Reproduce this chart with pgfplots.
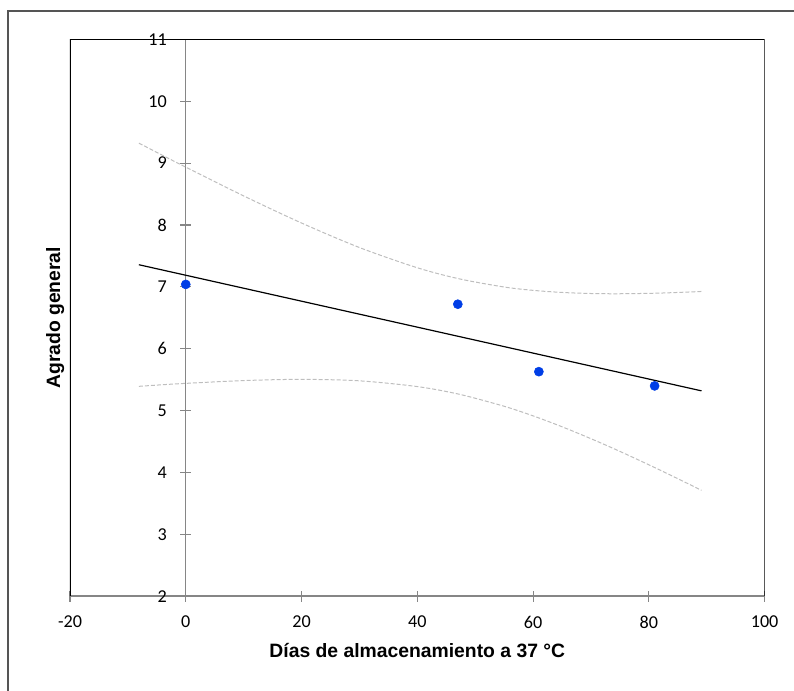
\documentclass[border=0pt]{standalone}
\usepackage{fontspec}
\setmainfont{Carlito}
\newfontfamily\arialfont{Liberation Sans}
\usepackage{pgfplots}
\pgfplotsset{compat=1.18}
\definecolor{ptblue}{RGB}{0,62,230}
\definecolor{bandgray}{RGB}{190,190,190}
\definecolor{axgray}{RGB}{134,134,134}
\definecolor{framegray}{RGB}{85,85,85}
\begin{document}
\begin{tikzpicture}
\useasboundingbox (0,0) rectangle (595.5pt,518.25pt);
\draw[framegray, line width=1pt] (6pt,0) -- (6pt,510pt) -- (596pt,510pt);
\begin{axis}[
 at={(52.5pt,71pt)}, anchor=south west,
 scale only axis, width=520.95pt, height=417.75pt,
 xmin=-20, xmax=100, ymin=2, ymax=11,
 axis x line*=bottom, axis y line*=center,
 hide obscured x ticks=false, hide obscured y ticks=false,
 xtick={-20,0,20,40,60,80,100}, ytick={2,3,4,5,6,7,8,9,10,11},
 tick align=center, major tick length=8.5pt,
 every tick/.style={axgray, line width=0.8pt},
 x axis line style={axgray, line width=1.6pt},
 y axis line style={axgray, line width=0.8pt},
 /pgf/number format/assume math mode=true,
 tick label style={font=\fontsize{13.6}{16}\selectfont, black},
 yticklabel style={anchor=east, xshift=-6.5pt},
 xticklabel style={anchor=north, yshift=-7pt},
 xlabel={Días de almacenamiento a 37 °C},
 ylabel={Agrado general},
 label style={font=\arialfont\bfseries\fontsize{14.5}{17}\selectfont},
 xlabel style={at={(axis description cs:0.5,-0.0964)}, anchor=center},
 ylabel style={at={(axis description cs:-0.0212,0.5)}, anchor=center, rotate=0},
]
\addplot[bandgray, line width=0.75pt, dash pattern=on 3pt off 1.5pt, smooth] coordinates {
(-8.1,9.323) (-4,9.125) (0,8.935) (10,8.470) (20,8.032) (30,7.636) (40,7.309) (47.25,7.130) (55,6.998) (60,6.944) (65,6.910) (70,6.893) (75,6.889) (82,6.900) (89.1,6.926)};
\addplot[bandgray, line width=0.75pt, dash pattern=on 3pt off 1.5pt, smooth] coordinates {
(-8.1,5.393) (-4,5.419) (0,5.441) (10,5.486) (20,5.506) (30,5.482) (40,5.389) (47.25,5.265) (55,5.071) (60,4.916) (65,4.740) (70,4.547) (75,4.342) (82,4.037) (89.1,3.713)};
\addplot[black, line width=0.9pt] coordinates {(-8.1,7.358) (89.1,5.320)};
\addplot[only marks, mark=*, mark size=3.4pt, color=ptblue, mark options={draw=ptblue, fill=ptblue}] coordinates {(0,7.04) (47,6.72) (61,5.63) (81,5.40)};
\draw[black, line width=1.1pt] (rel axis cs:0,0) -- (rel axis cs:0,1) -- (rel axis cs:1,1) -- (rel axis cs:1,0);
\end{axis}
\end{tikzpicture}
\end{document}
